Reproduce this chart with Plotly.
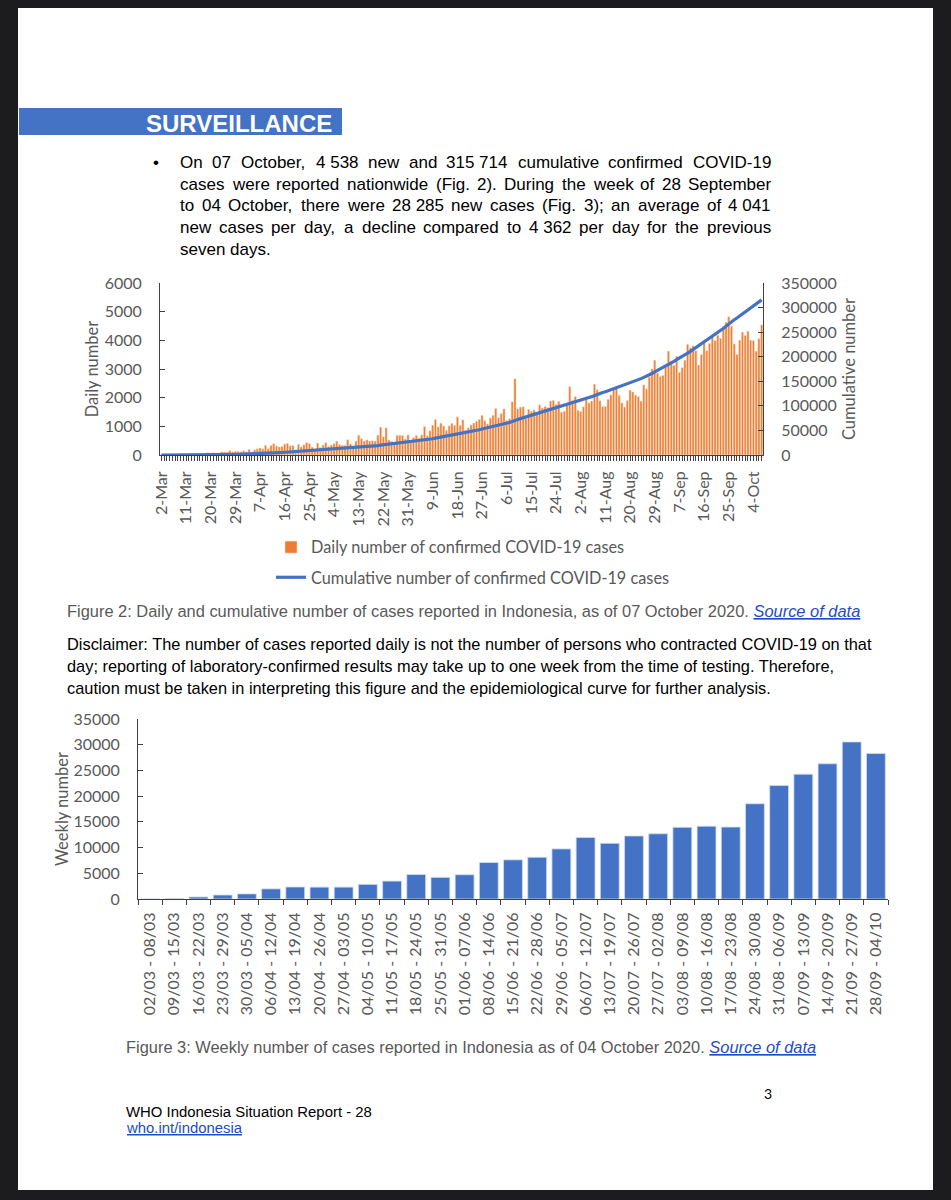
import pandas as pd
import plotly.graph_objects as go

W, H = 951, 1200

# ---------------- data ----------------
daily_cases = [
    2, 0, 0, 0, 2, 0, 2, 13, 8, 7, 0, 35, 27, 21, 17, 38, 55, 82, 60, 81, 64, 65, 107, 104, 103, 153, 109, 130, 129, 114,
    149, 113, 196, 106, 181, 218, 247, 218, 337, 219, 330, 399, 316, 282, 297, 380, 407, 325, 327, 185, 375, 283, 357, 436, 396, 275, 214, 415, 260, 347,
    433, 292, 349, 395, 484, 367, 338, 336, 533, 387, 233, 484, 689, 568, 490, 529, 489, 496, 486, 693, 973, 634, 949, 526, 479, 415, 686, 687, 678, 557, 700,
    467, 609, 684, 585, 703, 993, 672, 847, 1043, 1241, 979, 1111, 1014, 857, 1017, 1106, 1031, 1331, 1041, 1226, 862, 954, 1051, 1113, 1178, 1240, 1385, 1198, 1082, 1293,
    1385, 1624, 1301, 1447, 1607, 1209, 1268, 1853, 2657, 1611, 1671, 1681, 1282, 1591, 1522, 1574, 1462, 1752, 1639, 1693, 1655, 1882, 1906, 1761, 1868, 1492, 1525, 1748, 2381, 1904, 2040,
    1560, 1519, 1679, 1922, 1815, 1882, 2473, 2277, 1893, 1687, 1693, 1942, 2098, 2307, 2345, 2081, 1821, 1673, 1902, 2266, 2197, 2090, 2037, 1877, 2447, 2306, 2719, 3003, 3308, 2858, 2743,
    2775, 3075, 3622, 3269, 3128, 3444, 2880, 3046, 3307, 3861, 3737, 3806, 3636, 3141, 3507, 3963, 3635, 3891, 4168, 3989, 4176, 4071, 4465, 4634, 4823, 4494, 3874, 3509, 4002, 4284,
    4174, 4317, 4007, 3992, 3622, 4056, 4538,
]

cumulative_cases = [
    2, 2, 2, 2, 4, 4, 6, 19, 27, 34, 34, 69, 96, 117, 134, 172, 227, 309, 369, 450, 514, 579, 686, 790, 893, 1046, 1155, 1285, 1414, 1528,
    1677, 1790, 1986, 2092, 2273, 2491, 2738, 2956, 3293, 3512, 3842, 4241, 4557, 4839, 5136, 5516, 5923, 6248, 6575, 6760, 7135, 7418, 7775, 8211, 8607, 8882, 9096, 9511, 9771, 10118,
    10551, 10843, 11192, 11587, 12071, 12438, 12776, 13112, 13645, 14032, 14265, 14749, 15438, 16006, 16496, 17025, 17514, 18010, 18496, 19189, 20162, 20796, 21745, 22271, 22750, 23165, 23851, 24538, 25216, 25773, 26473,
    26940, 27549, 28233, 28818, 29521, 30514, 31186, 32033, 33076, 34316, 35295, 36406, 37420, 38277, 39294, 40400, 41431, 42762, 43803, 45029, 45891, 46845, 47896, 49009, 50187, 51427, 52812, 54010, 55092, 56385,
    57770, 59394, 60695, 62142, 63749, 64958, 66226, 68079, 70736, 72347, 74018, 75699, 76981, 78572, 80094, 81668, 83130, 84882, 86521, 88214, 89869, 91751, 93657, 95418, 97286, 98778, 100303, 102051, 104432, 106336, 108376,
    109936, 111455, 113134, 115056, 116871, 118753, 121226, 123503, 125396, 127083, 128776, 130718, 132816, 135123, 137468, 139549, 141370, 143043, 144945, 147211, 149408, 151498, 153535, 155412, 157859, 160165, 162884, 165887, 169195, 172053, 174796,
    177571, 180646, 184268, 187537, 190665, 194109, 196989, 200035, 203342, 207203, 210940, 214746, 218382, 221523, 225030, 228993, 232628, 236519, 240687, 244676, 248852, 252923, 257388, 262022, 266845, 271339, 275213, 278722, 282724, 287008,
    291182, 295499, 299506, 303498, 307120, 311176, 315714,
]

first_day = "2020-03-02"
dates = pd.date_range(first_day, periods=len(daily_cases), freq="D")
daily_tick_dates = dates[::9]

week_labels = [
    "02/03 - 08/03", "09/03 - 15/03", "16/03 - 22/03", "23/03 - 29/03", "30/03 - 05/04",
    "06/04 - 12/04", "13/04 - 19/04", "20/04 - 26/04", "27/04 - 03/05", "04/05 - 10/05",
    "11/05 - 17/05", "18/05 - 24/05", "25/05 - 31/05", "01/06 - 07/06", "08/06 - 14/06",
    "15/06 - 21/06", "22/06 - 28/06", "29/06 - 05/07", "06/07 - 12/07", "13/07 - 19/07",
    "20/07 - 26/07", "27/07 - 02/08", "03/08 - 09/08", "10/08 - 16/08", "17/08 - 23/08",
    "24/08 - 30/08", "31/08 - 06/09", "07/09 - 13/09", "14/09 - 20/09", "21/09 - 27/09",
    "28/09 - 04/10",
]
weekly_cases = [
    6, 111, 397, 771, 988, 1968, 2334, 2307, 2310, 2840, 3482, 4757, 4202, 4713, 7092,
    7614, 8119, 9739, 11950, 10822, 12257, 12677, 13941, 14153, 13986, 18518, 22056,
    24273, 26294, 30537, 28285,
]

# ---------------- styles ----------------
ARIAL = "Liberation Sans, Arial, sans-serif"
CALIBRI = "Lato, Carlito, Calibri, sans-serif"
GREY = "#595959"
AXIS = "#404040"
ORANGE = "#ED7D31"
BLUE = "#4472C4"
LINK = "#1F4BC9"
FRAME = "#1c1c1e"

# Arial advance widths (per 1000 em) for text layout
_AW = {
    " ": 278, ",": 278, ".": 278, "(": 333, ")": 333, ";": 278, ":": 278, "-": 333, "/": 278,
    "a": 556, "b": 556, "c": 500, "d": 556, "e": 556, "f": 278, "g": 556, "h": 556, "i": 222,
    "j": 222, "k": 500, "l": 222, "m": 833, "n": 556, "o": 556, "p": 556, "q": 556, "r": 333,
    "s": 500, "t": 278, "u": 556, "v": 500, "w": 722, "x": 500, "y": 500, "z": 500,
    "A": 667, "B": 667, "C": 722, "D": 722, "E": 667, "F": 611, "G": 778, "H": 722, "I": 278,
    "J": 500, "K": 667, "L": 556, "M": 833, "N": 722, "O": 778, "P": 667, "Q": 778, "R": 722,
    "S": 667, "T": 611, "U": 722, "V": 667, "W": 944, "X": 667, "Y": 667, "Z": 611,
}


def tw(s, size=1.0):
    return sum(_AW.get(c, 556) for c in s) / 1000.0 * size


# page offset of the figure inside the browser window (default body margin)
OFF = 8


def px(x):
    return (x - OFF) / W


def py(y):
    return 1 - (y - OFF) / H


annotations = []


def add_text(text, x, y, size, color="black", xanchor="left", family=ARIAL, angle=0):
    annotations.append(dict(
        text=text, x=px(x), y=py(y), xref="paper", yref="paper",
        xanchor=xanchor, yanchor="middle", showarrow=False, textangle=angle,
        font=dict(family=family, size=size, color=color),
        borderpad=0, borderwidth=0,
    ))


def justify(tokens, x0, x1, y, size, color="black"):
    widths = [tw(t, size) for t in tokens]
    gap = (x1 - x0 - sum(widths)) / (len(tokens) - 1)
    x = x0
    for t, w in zip(tokens, widths):
        add_text(t, x, y, size, color)
        x += w + gap


# ---------------- figure ----------------
fig = go.Figure()

fig.add_trace(go.Bar(
    x=dates, y=daily_cases, name="Daily number of confirmed COVID-19 cases",
    marker=dict(color=ORANGE, line=dict(width=0.5, color="#FBE3D3")), xaxis="x", yaxis="y",
    legendgroup="a",
))
fig.add_trace(go.Scatter(
    x=dates, y=cumulative_cases, name="Cumulative number of confirmed COVID-19 cases",
    mode="lines", line=dict(color=BLUE, width=3.2), xaxis="x", yaxis="y2",
    cliponaxis=False, legendgroup="b",
))
fig.add_trace(go.Bar(
    x=week_labels, y=weekly_cases, name="Weekly number",
    marker=dict(color=BLUE, line=dict(width=0.8, color="#D0DCF0")), xaxis="x2", yaxis="y3",
    showlegend=False,
))

# ---------------- text blocks ----------------
shapes = [
    dict(type="rect", xref="paper", yref="paper", x0=px(18), x1=px(933), y0=py(1190), y1=py(7),
         fillcolor="white", line=dict(width=0), layer="below"),
    dict(type="rect", xref="paper", yref="paper", x0=px(19), x1=px(342), y0=py(135), y1=py(108),
         fillcolor=BLUE, line=dict(width=0), layer="below"),
]
add_text("<b>SURVEILLANCE</b>", 332, 123.5, 24, "white", xanchor="right")

# bullet paragraph
BODY = 17
add_text("\u2022", 156, 163, BODY, "black", xanchor="center")
bullet_lines = [
    ["On", "07", "October,", "4 538", "new", "and", "315 714", "cumulative", "confirmed", "COVID-19"],
    ["cases", "were", "reported", "nationwide", "(Fig.", "2).", "During", "the", "week", "of", "28", "September"],
    ["to", "04", "October,", "there", "were", "28 285", "new", "cases", "(Fig.", "3);", "an", "average", "of", "4 041"],
    ["new", "cases", "per", "day,", "a", "decline", "compared", "to", "4 362", "per", "day", "for", "the", "previous"],
]
line_y = [162.5, 184.2, 205.9, 227.5]
for toks, yy in zip(bullet_lines, line_y):
    justify(toks, 180, 771, yy, BODY)
add_text("seven days.", 180, 249.2, BODY)

# figure 2 caption
cap2_a = "Figure 2: Daily and cumulative number of cases reported in Indonesia, as of 07 October 2020. "
cap2_b = "Source of data"
s2 = (861 - 67) / tw(cap2_a + cap2_b)
add_text(cap2_a + "<span style='color:%s;font-style:italic'><u>%s</u></span>" % (LINK, cap2_b),
         67, 611, s2, GREY)

# disclaimer
disc = [
    "Disclaimer: The number of cases reported daily is not the number of persons who contracted COVID-19 on that",
    "day; reporting of laboratory-confirmed results may take up to one week from the time of testing. Therefore,",
    "caution must be taken in interpreting this figure and the epidemiological curve for further analysis.",
]
sd = (872 - 67) / tw(disc[0])
for t, yy in zip(disc, [644, 666, 688]):
    add_text(t, 67, yy, sd, "black")

# figure 3 caption
cap3_a = "Figure 3: Weekly number of cases reported in Indonesia as of 04 October 2020. "
cap3_b = "Source of data"
s3 = (817 - 126) / tw(cap3_a + cap3_b)
add_text(cap3_a + "<span style='color:%s;font-style:italic'><u>%s</u></span>" % (LINK, cap3_b),
         126, 1047, s3, GREY)

# footer
foot = "WHO Indonesia Situation Report - 28"
sf = (372 - 126) / tw(foot)
add_text(foot, 126, 1112, sf, "black")
add_text("<span style='color:%s'><u>who.int/indonesia</u></span>" % LINK, 126, 1128, sf, LINK)
add_text("3", 768, 1093, 14, "black", xanchor="center", family=CALIBRI)

# ---------------- axes ----------------
tickfont = dict(family=CALIBRI, size=16, color=GREY)
titlefont = dict(family=CALIBRI, size=16.5, color=GREY)

fig.update_layout(
    width=W, height=H,
    margin=dict(l=0, r=0, t=0, b=0, pad=0, autoexpand=False),
    paper_bgcolor=FRAME,
    plot_bgcolor="rgba(0,0,0,0)",
    bargap=0.22,
    font=dict(family=CALIBRI, color=GREY),
    shapes=shapes,
    annotations=annotations,
    showlegend=True,
    legend=dict(
        x=px(271), y=py(530), xanchor="left", yanchor="top",
        bgcolor="rgba(0,0,0,0)", borderwidth=0,
        font=dict(family=CALIBRI, size=16.3, color=GREY),
        traceorder="grouped", tracegroupgap=6,
    ),
    xaxis=dict(
        domain=[px(160), px(763)], anchor="y", type="date",
        range=["2020-03-01 12:00", "2020-10-07 12:00"],
        tickvals=list(daily_tick_dates), tickformat="%-d-%b", tickangle=-90,
        ticks="outside", ticklen=5, tickcolor=AXIS, tickwidth=1,
        minor=dict(ticks="outside", ticklen=5, tickcolor=AXIS, tickwidth=1,
                   dtick=86400000, tick0=first_day, showgrid=False),
        showline=True, linecolor=AXIS, linewidth=1, showgrid=False, zeroline=False,
        tickfont=tickfont, ticklabelstandoff=4, automargin=False,
    ),
    yaxis=dict(
        domain=[py(455), py(283)], anchor="x", range=[0, 6000], dtick=1000, tickformat="d",
        ticks="inside", ticklen=5, tickcolor=AXIS, showline=True, linecolor=AXIS,
        showgrid=False, zeroline=False, tickfont=tickfont, ticklabelstandoff=14,
        title=dict(text="Daily number", font=titlefont, standoff=1), automargin=False,
    ),
    yaxis2=dict(
        overlaying="y", side="right", anchor="x", range=[0, 350000], dtick=50000, tickformat="d",
        ticks="inside", ticklen=5, tickcolor=AXIS, showline=True, linecolor=AXIS,
        showgrid=False, zeroline=False, tickfont=tickfont, ticklabelstandoff=14,
        title=dict(text="Cumulative number", font=titlefont, standoff=7), automargin=False,
    ),
    xaxis2=dict(
        domain=[px(138), px(888)], anchor="y3", type="category",
        tickson="boundaries", ticks="outside", ticklen=5, tickcolor=AXIS,
        tickangle=-90, showline=True, linecolor=AXIS, linewidth=1,
        showgrid=False, zeroline=False, tickfont=tickfont, ticklabelstandoff=6,
        automargin=False,
    ),
    yaxis3=dict(
        domain=[py(899), py(719)], anchor="x2", range=[0, 35000], dtick=5000, tickformat="d",
        ticks="inside", ticklen=5, tickcolor=AXIS, showline=True, linecolor=AXIS,
        showgrid=False, zeroline=False, tickfont=tickfont, ticklabelstandoff=14,
        title=dict(text="Weekly number", font=titlefont, standoff=0), automargin=False,
    ),
)

fig.write_html("out.html", post_script="document.body.style.background='%s';" % FRAME)
